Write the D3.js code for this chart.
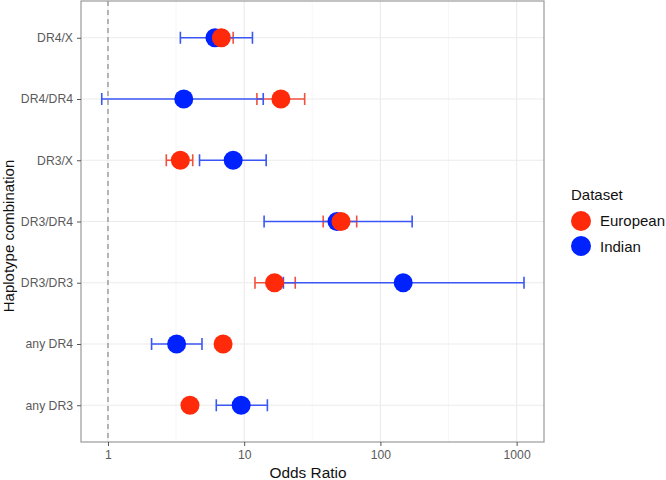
<!DOCTYPE html>
<html><head><meta charset="utf-8">
<script src="https://cdn.jsdelivr.net/npm/d3@7"></script>
<style>body{margin:0;background:#fff}text{font-family:"Liberation Sans",Arial,sans-serif}</style>
</head><body>
<script>
const categories = ["DR4/X","DR4/DR4","DR3/X","DR3/DR4","DR3/DR3","any DR4","any DR3"];
const datasets = ["European","Indian"];
const colors = ["#ff2a0a","#0022ff"];
const barColors = ["#f2503f","#3a56f5"];
// European
const euroOR  = [6.8, 18.6, 3.4, 51.4, 16.7, 7.0, 4.0];
const euroLo  = [5.6, 12.4, 2.68, 38, 12.0, null, null];
const euroHi  = [8.3, 27.8, 4.19, 67, 23.7, null, null];
// Indian
const indOR   = [6.1, 3.6, 8.3, 48, 147, 3.19, 9.5];
const indLo   = [3.4, 0.9, 4.7, 14, 19.4, 2.09, 6.24];
const indHi   = [11.5, 13.8, 14.5, 171, 1133, 4.9, 14.8];
const xTicks = [1, 10, 100, 1000];
const xMinor = [Math.sqrt(10), Math.sqrt(1000), Math.sqrt(100000)];

const W = 666, H = 480;
const m = {l:81, r:122, t:1, b:38};
const svg = d3.select("body").append("svg").attr("width",W).attr("height",H);
const x = d3.scaleLog().domain([Math.pow(10,-0.198), Math.pow(10,3.201)]).range([m.l, W-m.r]);
const y = d3.scalePoint().domain(categories).range([m.t, H-m.b]).padding(0.6);

const g = svg.append("g");
// grid
g.selectAll(".minor").data(xMinor).join("line")
  .attr("x1",d=>x(d)).attr("x2",d=>x(d)).attr("y1",m.t).attr("y2",H-m.b)
  .attr("stroke","#f2f2f2").attr("stroke-width",0.6);
g.selectAll(".major").data(xTicks).join("line")
  .attr("x1",d=>x(d)).attr("x2",d=>x(d)).attr("y1",m.t).attr("y2",H-m.b)
  .attr("stroke","#ebebeb").attr("stroke-width",1.1);
g.selectAll(".hgrid").data(categories).join("line")
  .attr("x1",m.l).attr("x2",W-m.r).attr("y1",d=>y(d)).attr("y2",d=>y(d))
  .attr("stroke","#ebebeb").attr("stroke-width",1.1);
// reference dashed line
g.append("line").attr("x1",x(1)).attr("x2",x(1)).attr("y1",m.t).attr("y2",H-m.b)
  .attr("stroke","#8a8a8a").attr("stroke-width",1.2).attr("stroke-dasharray","5,4");

const series = [
  {name:"Indian", or:indOR, lo:indLo, hi:indHi, i:1},
  {name:"European", or:euroOR, lo:euroLo, hi:euroHi, i:0}
];
const capH = 6;
// error bars: European first, Indian on top
[series[1], series[0]].forEach(s=>{
  const rows = categories.map((c,k)=>({c, lo:s.lo[k], hi:s.hi[k]})).filter(r=>r.lo!=null);
  const eg = g.append("g").attr("stroke",barColors[s.i]).attr("stroke-width",1.6).attr("fill","none");
  eg.selectAll(".h").data(rows).join("line")
    .attr("x1",r=>x(r.lo)).attr("x2",r=>x(r.hi)).attr("y1",r=>y(r.c)).attr("y2",r=>y(r.c));
  eg.selectAll(".cl").data(rows).join("line")
    .attr("x1",r=>x(r.lo)).attr("x2",r=>x(r.lo)).attr("y1",r=>y(r.c)-capH).attr("y2",r=>y(r.c)+capH);
  eg.selectAll(".ch").data(rows).join("line")
    .attr("x1",r=>x(r.hi)).attr("x2",r=>x(r.hi)).attr("y1",r=>y(r.c)-capH).attr("y2",r=>y(r.c)+capH);
});
// points: Indian then European on top
series.forEach(s=>{
  g.append("g").selectAll("circle").data(categories.map((c,k)=>({c, v:s.or[k]}))).join("circle")
    .attr("cx",d=>x(d.v)).attr("cy",d=>y(d.c)).attr("r",9.5).attr("fill",colors[s.i]);
});
// panel border
svg.append("rect").attr("x",m.l).attr("y",m.t).attr("width",W-m.r-m.l).attr("height",H-m.b-m.t)
  .attr("fill","none").attr("stroke","#9a9a9a").attr("stroke-width",1.2);

// axes
const xa = svg.append("g").attr("transform",`translate(0,${H-m.b})`)
  .call(d3.axisBottom(x).tickValues(xTicks).tickFormat(d3.format("d")).tickSizeOuter(0).tickSize(4).tickPadding(4));
xa.select(".domain").remove();
xa.selectAll("line").attr("stroke","#555");
xa.selectAll("text").attr("fill","#5a5a5a").attr("font-size",12.2).style("font-family","Liberation Sans, Arial, sans-serif");
const ya = svg.append("g").attr("transform",`translate(${m.l},0)`)
  .call(d3.axisLeft(y).tickSizeOuter(0).tickSize(4).tickPadding(4));
ya.select(".domain").remove();
ya.selectAll("line").attr("stroke","#555");
ya.selectAll("text").attr("fill","#5a5a5a").attr("font-size",12.2).style("font-family","Liberation Sans, Arial, sans-serif");

svg.append("text").attr("x",308).attr("y",478).attr("text-anchor","middle")
  .attr("font-size",15.4).attr("fill","#111").text("Odds Ratio");
svg.append("text").attr("transform",`translate(14,236) rotate(-90)`).attr("text-anchor","middle")
  .attr("font-size",15).attr("fill","#111").text("Haplotype combination");

// legend
const lg = svg.append("g").attr("transform","translate(571,0)");
lg.append("text").attr("x",0).attr("y",200).attr("font-size",15).attr("fill","#111").text("Dataset");
datasets.forEach((d,i)=>{
  lg.append("circle").attr("cx",10).attr("cy",221+i*25).attr("r",10).attr("fill",colors[i]);
  lg.append("text").attr("x",29).attr("y",226+i*25.5).attr("font-size",15).attr("fill","#111").text(d);
});
</script>
</body></html>
